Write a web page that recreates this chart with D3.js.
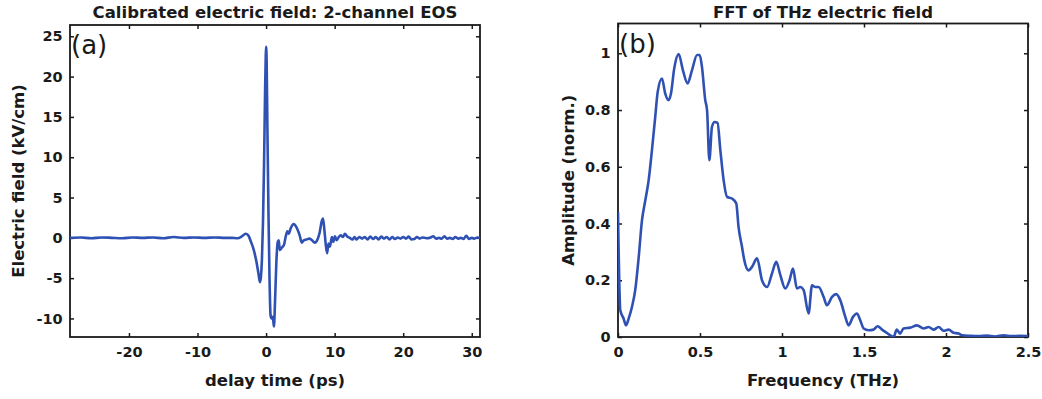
<!DOCTYPE html>
<html><head><meta charset="utf-8">
<script src="https://cdn.jsdelivr.net/npm/d3@7"></script>
<style>body{margin:0;background:#fff;} text{font-family:"DejaVu Sans",Arial,Helvetica,sans-serif;}</style>
</head><body><svg id="c" width="1042" height="399"></svg>
<script>
// ---- Panel (a): calibrated electric field ----
const timePs = [-28.6,-27,-25.5,-24,-22.5,-21,-19.5,-18,-16.5,-15,-13.5,-12,-10.5,-9,-7.5,-6,-5,-4.2,
  -3.5,-3.0,-2.6,-2.2,-1.8,-1.4,-1.1,-0.9,-0.75,-0.6,-0.45,-0.3,-0.15,-0.05,0.0,0.08,0.2,0.35,0.5,0.65,0.8,0.95,1.05,1.15,1.3,1.5,1.7,1.85,2.0,2.3,2.6,2.9,3.1,3.3,3.6,4.0,4.3,4.6,4.9,5.2,5.5,5.9,6.3,6.7,7.1,7.5,7.8,8.1,8.3,8.5,8.7,8.9,9.1,9.3,9.6,9.8,10.05,10.3,10.6,10.9,11.2,11.5,11.8,12.2,12.6,12.9,
  13.2,13.6,14.0,14.4,14.8,15.2,15.6,16.0,16.4,16.8,17.2,17.6,18.0,18.4,18.8,19.2,19.6,20.0,20.4,20.8,21.2,21.6,22.0,22.4,22.8,23.4,24.0,24.4,24.8,25.2,25.6,26.0,26.4,26.8,27.2,27.6,28.0,28.4,28.8,29.2,29.6,30.0,30.4,30.8,31.2];
const fieldKVcm = [0,0.05,-0.05,0.05,0,-0.05,0.05,0,0.05,-0.05,0.1,0,0.05,0,0.05,0,0,-0.05,
  0.2,0.5,0.3,-0.5,-1.5,-3.0,-4.5,-5.5,-4.8,-2.5,2.0,9.0,18.0,22.5,23.7,22.0,13.0,3.0,-5.0,-9.6,-10.0,-9.8,-10.3,-11.0,-8.0,-3.0,-0.5,-0.3,-1.5,-1.2,-0.9,0.3,0.8,0.5,1.2,1.7,1.5,1.0,0.3,-0.6,-0.3,-0.2,-0.1,-0.3,-0.6,-0.2,0.6,2.0,2.4,1.0,-0.8,-1.9,-0.7,-1.1,0.1,-0.5,0.2,-0.3,0.1,0.3,0.1,0.5,0.2,0.0,-0.2,0.1,
  -0.2,0.1,-0.1,0.1,-0.2,0.15,-0.15,0.1,-0.2,0.15,-0.1,0.1,-0.2,0.1,-0.15,0.05,-0.1,0.1,-0.1,0.15,-0.2,-0.15,0.1,-0.1,0.05,-0.05,0.05,0.2,-0.1,0,-0.1,0.2,-0.1,0,-0.15,0.1,-0.1,0,-0.15,0.25,-0.15,0,-0.1,0.05,0];
const xTicksA = [-20,-10,0,10,20,30];
const yTicksA = [-10,-5,0,5,10,15,20,25];

// ---- Panel (b): FFT amplitude ----
const freqTHz = [0,0.014,0.034,0.049,0.065,0.085,0.105,0.126,0.146,0.166,0.187,0.207,0.227,0.242,0.268,0.288,0.309,0.323,0.343,0.37,0.396,0.424,0.451,0.482,0.498,0.512,0.532,0.543,0.557,0.573,0.589,0.607,0.624,0.644,0.665,0.695,0.721,0.735,0.756,0.77,0.796,0.817,0.848,0.878,0.909,0.939,0.965,0.99,1.02,1.046,1.067,1.091,1.111,1.132,1.162,1.183,1.203,1.223,1.254,1.274,1.305,1.331,1.355,1.386,1.406,1.433,1.457,1.477,1.498,1.528,1.558,1.583,1.61,1.63,1.66,1.68,1.70,1.72,1.741,1.782,1.823,1.863,1.894,1.924,1.955,1.985,2.016,2.046,2.077,2.098,2.15,2.2,2.25,2.3,2.35,2.4,2.45,2.5];
const amplitude = [0.44,0.094,0.065,0.041,0.065,0.106,0.165,0.28,0.41,0.48,0.553,0.659,0.776,0.864,0.911,0.858,0.835,0.858,0.947,0.997,0.94,0.894,0.94,0.994,0.994,0.952,0.835,0.80,0.623,0.741,0.758,0.755,0.659,0.553,0.494,0.488,0.471,0.388,0.318,0.271,0.235,0.247,0.277,0.2,0.176,0.224,0.265,0.218,0.171,0.2,0.241,0.171,0.176,0.165,0.083,0.182,0.176,0.176,0.141,0.112,0.141,0.151,0.13,0.071,0.041,0.071,0.083,0.059,0.03,0.024,0.026,0.038,0.026,0.018,0.006,0.0,0.026,0.012,0.03,0.033,0.041,0.03,0.035,0.026,0.035,0.022,0.026,0.015,0.012,0.006,0.004,0.003,0.005,0.002,0.006,0.003,0.004,0.003];
const xTicksB = [0,0.5,1,1.5,2,2.5];
const yTicksB = [0,0.2,0.4,0.6,0.8,1];

const svg = d3.select("#c");
const lineColor = "#2f51b3";
const axisColor = "#1a1a1a";
const plain = d => String(d); // hyphen-minus, like the original

function panel(opts){
  const {left,top,right,bottom,xDom,yDom,xs,ys,xT,yT,title,xLabel,yLabel,tag,yLabelX} = opts;
  const g = svg.append("g");
  const x = d3.scaleLinear().domain(xDom).range([left,right]);
  const y = d3.scaleLinear().domain(yDom).range([bottom,top]);
  const tl = 4;
  const ax = [
    {a:d3.axisBottom(x).tickValues(xT).tickSize(-tl).tickFormat(plain), t:`translate(0,${bottom})`},
    {a:d3.axisTop(x).tickValues(xT).tickSize(-tl).tickFormat(""), t:`translate(0,${top})`},
    {a:d3.axisLeft(y).tickValues(yT).tickSize(-tl).tickFormat(plain), t:`translate(${left},0)`},
    {a:d3.axisRight(y).tickValues(yT).tickSize(-tl).tickFormat(""), t:`translate(${right},0)`}
  ];
  ax.forEach((d,i)=>{
    const ag = g.append("g").attr("transform",d.t).call(d.a);
    ag.select(".domain").remove();
    ag.selectAll(".tick line").attr("stroke",axisColor).attr("stroke-width",1.5);
    ag.selectAll("text").attr("font-size",14.5).attr("font-weight","bold").attr("fill",axisColor)
      .attr("font-family","'DejaVu Sans',sans-serif");
    if(i===0) ag.selectAll("text").attr("dy","1.2em");
    if(i===2) ag.selectAll("text").attr("dx","-0.3em");
  });
  g.append("rect").attr("x",left).attr("y",top).attr("width",right-left).attr("height",bottom-top)
    .attr("fill","none").attr("stroke",axisColor).attr("stroke-width",1.8);
  const clipId = "clip"+tag.replace(/\W/g,"");
  svg.append("clipPath").attr("id",clipId).append("rect").attr("x",left).attr("y",top).attr("width",right-left).attr("height",bottom-top);
  const data = xs.map((v,i)=>[v,ys[i]]);
  g.append("path").datum(data).attr("clip-path",`url(#${clipId})`)
    .attr("fill","none").attr("stroke",lineColor).attr("stroke-width",2.6).attr("stroke-linejoin","round")
    .attr("d",d3.line().x(d=>x(d[0])).y(d=>y(d[1])).curve(d3.curveMonotoneX));
  g.append("text").attr("x",(left+right)/2).attr("y",18).attr("text-anchor","middle")
    .attr("font-size",16.5).attr("font-weight","bold").attr("fill",axisColor).text(title);
  g.append("text").attr("x",(left+right)/2).attr("y",386).attr("text-anchor","middle")
    .attr("font-size",16.5).attr("font-weight","bold").attr("fill",axisColor).text(xLabel);
  g.append("text").attr("transform",`translate(${yLabelX},${(top+bottom)/2}) rotate(-90)`).attr("text-anchor","middle")
    .attr("font-size",16.5).attr("font-weight","bold").attr("fill",axisColor).text(yLabel);
  g.append("text").attr("x",left+1).attr("y",top+29).attr("font-size",26).attr("fill",axisColor)
    .attr("font-family","'Liberation Sans',Arial,sans-serif").text(tag);
}

panel({left:70,top:25,right:480,bottom:337,xDom:[-28.6,31.2],yDom:[-12.3,26.4],xs:timePs,ys:fieldKVcm,
  xT:xTicksA,yT:yTicksA,
  title:"Calibrated electric field: 2-channel EOS",xLabel:"delay time (ps)",yLabel:"Electric field (kV/cm)",tag:"(a)",yLabelX:24});
panel({left:618,top:23.5,right:1028,bottom:337,xDom:[0,2.5],yDom:[0,1.105],xs:freqTHz,ys:amplitude,
  xT:xTicksB,yT:yTicksB,
  title:"FFT of THz electric field",xLabel:"Frequency (THz)",yLabel:"Amplitude (norm.)",tag:"(b)",yLabelX:574});
</script></body></html>
